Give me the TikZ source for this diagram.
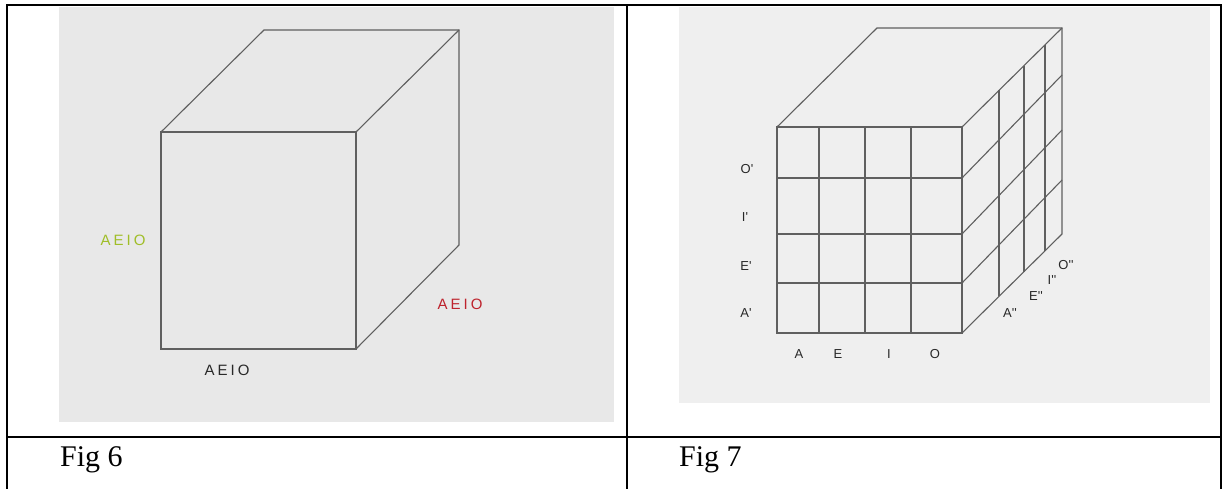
\documentclass[tikz,border=0pt]{standalone}
\usepackage{fontspec}
\usetikzlibrary{calc}
\setmainfont{Liberation Serif}
\newfontfamily\lblfont{Liberation Sans}
\definecolor{panelA}{RGB}{232,232,232}
\definecolor{panelB}{RGB}{239,239,239}
\definecolor{edgecol}{RGB}{95,95,95}
\definecolor{lblgreen}{RGB}{160,190,40}
\definecolor{lblred}{RGB}{190,35,45}
\definecolor{lbldark}{RGB}{40,40,40}
\newcommand{\vowels}{A\hspace{3pt}E\hspace{3pt}I\hspace{3pt}O}
\begin{document}
\begin{tikzpicture}[x=1pt,y=-1pt,
  rule/.style={line width=2.2pt,black},
  edge/.style={draw=edgecol,line width=1.1pt,line join=miter},
  biglbl/.style={inner sep=0pt,font=\lblfont\fontsize{15}{15}\selectfont},
  smalllbl/.style={inner sep=0pt,text=lbldark,font=\lblfont\fontsize{13}{13}\selectfont},
  caption/.style={inner sep=0pt,anchor=base west,font=\fontsize{30}{32}\selectfont}]
\useasboundingbox (0,0) rectangle (1224,488);
\fill[white] (0,0) rectangle (1224,488);

% image panels
\fill[panelA] (59,7) rectangle (614,422);
\fill[panelB] (679,7) rectangle (1210,403);

% table rules
\draw[rule] (7,492) -- (7,5) -- (1221,5) -- (1221,492);
\draw[rule] (627,5) -- (627,492);
\draw[rule] (7,437) -- (1221,437);

% captions
\node[caption] (cap6) at (60,466) {Fig 6};
\node[caption] (cap7) at (679,466) {Fig 7};

% ---- plain cube ----
\coordinate (f6a) at (161,132);
\coordinate (f6b) at (356,132);
\coordinate (f6c) at (356,349);
\coordinate (f6d) at (161,349);
\coordinate (b6a) at (264,30);
\coordinate (b6b) at (459,30);
\coordinate (b6c) at (459,245);
\draw[edge] (f6a) -- (f6b) -- (f6c) -- (f6d) -- cycle;
\draw[edge] (f6a) -- (b6a) -- (b6b) -- (b6c) -- (f6c);
\draw[edge] (f6b) -- (b6b);

\node[biglbl,text=lblgreen] (g6) at (123,240) {\vowels};
\node[biglbl,text=lblred]   (r6) at (460,304) {\vowels};
\node[biglbl,text=lbldark]  (k6) at (227,370) {\vowels};

% ---- gridded cube ----
\coordinate (f7a) at (777,127);
\coordinate (f7b) at (962,127);
\coordinate (f7c) at (962,333);
\coordinate (f7d) at (777,333);
\coordinate (b7a) at (877,28);
\coordinate (b7b) at (1062,28);
\coordinate (b7c) at (1062,234);
% front face grid
\foreach \x in {819,865,911} \draw[edge] (\x,127) -- (\x,333);
\foreach \y in {178,234,283} \draw[edge] (777,\y) -- (962,\y);
% side face grid
\foreach \d in {0.37,0.62,0.83}
  \draw[edge] ($(f7b)!\d!(b7b)$) -- ($(f7c)!\d!(b7c)$);
\foreach \yf/\yb in {178/75,234/130,283/180}
  \draw[edge] (962,\yf) -- (1062,\yb);
% outline
\draw[edge] (f7a) -- (f7b) -- (f7c) -- (f7d) -- cycle;
\draw[edge] (f7a) -- (b7a) -- (b7b) -- (b7c) -- (f7c);
\draw[edge] (f7b) -- (b7b);

% row labels
\node[smalllbl] (o1) at (747,169) {O'};
\node[smalllbl] (i1) at (745,217) {I'};
\node[smalllbl] (e1) at (746,266) {E'};
\node[smalllbl] (a1) at (746,313) {A'};
% column labels
\node[smalllbl] (a0) at (799,354) {A};
\node[smalllbl] (e0) at (838,354) {E};
\node[smalllbl] (i0) at (889,354) {I};
\node[smalllbl] (o0) at (935,354) {O};
% depth labels
\node[smalllbl] (a2) at (1010,313) {A''};
\node[smalllbl] (e2) at (1036,296) {E''};
\node[smalllbl] (i2) at (1052,280) {I''};
\node[smalllbl] (o2) at (1066,265) {O''};
\end{tikzpicture}
\end{document}
